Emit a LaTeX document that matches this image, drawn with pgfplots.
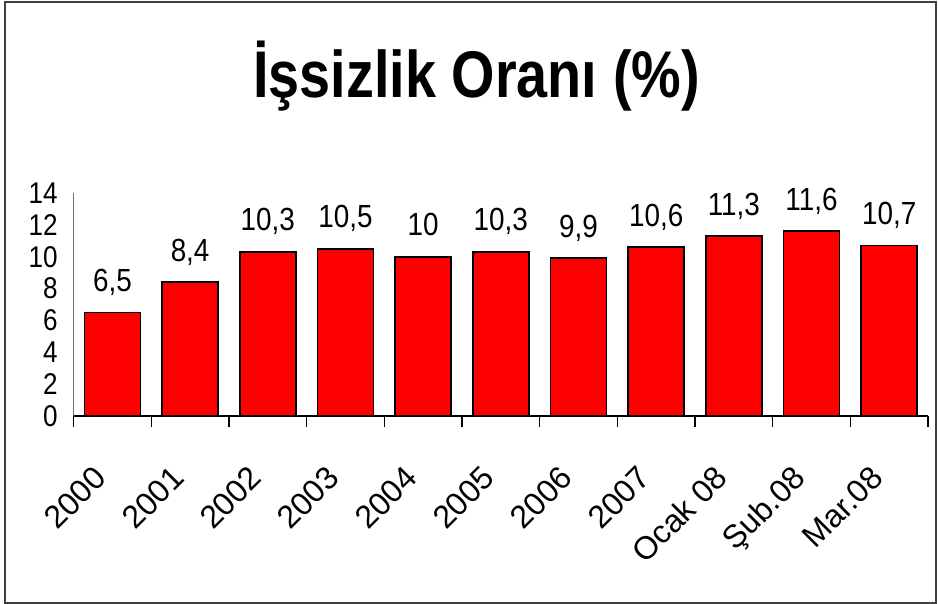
\documentclass[border=0pt]{standalone}
\usepackage{fontspec}
\setmainfont{Liberation Sans}
\newfontfamily\titlefont[FakeStretch=0.845]{Liberation Sans}
\newfontfamily\narrowfont[FakeStretch=0.87]{Liberation Sans}
\usepackage{pgfplots}
\pgfplotsset{compat=1.18}

\begin{document}
\begin{tikzpicture}
% whole picture, 1 px of the reference = 0.5pt, origin at the axis corner
\path[use as bounding box] (-36.8pt,-94pt) rectangle (432.2pt,208pt);
\draw[line width=1pt, black!75] (-34.3pt,207pt) rectangle (431.2pt,-93.5pt);
\node[anchor=base, inner sep=0pt, font=\titlefont\bfseries\fontsize{33}{38}\selectfont]
  at (201.5pt,159pt) {İşsizlik Oranı (\%)};

\begin{axis}[
  scale only axis, width=427.2pt, height=111.5pt,
  xmin=-0.5, xmax=10.5, ymin=0, ymax=14,
  axis x line=bottom, axis y line=left,
  x axis line style={-, black, line width=0.6pt},
  y axis line style={-, black!55, line width=0.6pt},
  major tick length=0pt,
  xtick=data,
  xticklabels={2000,2001,2002,2003,2004,2005,2006,2007,Ocak 08,Şub.08,Mar.08},
  extra x ticks={-0.5,0.5,1.5,2.5,3.5,4.5,5.5,6.5,7.5,8.5,9.5,10.5},
  extra x tick labels={},
  extra x tick style={major tick length=5.5pt, tick align=outside,
    tick style={black, line width=0.6pt}},
  ytick={0,2,4,6,8,10,12,14},
  /pgf/number format/.cd, use comma, assume math mode=true, /pgfplots/.cd,
  yticklabel style={font=\narrowfont\fontsize{15}{17}\selectfont, xshift=-4.5pt},
  xticklabel style={font=\fontsize{16}{18}\selectfont, inner sep=0pt,
    anchor=base east, xshift=-2pt, yshift=-32pt, rotate=45},
  nodes near coords,
  nodes near coords style={font=\narrowfont\fontsize{16}{18}\selectfont, inner sep=0pt,
    anchor=base, yshift=10.5pt},
]
\addplot[ybar, bar width=28pt, fill=red, draw=black, line width=0.9pt]
  coordinates {(0,6.5) (1,8.4) (2,10.3) (3,10.5) (4,10) (5,10.3)
               (6,9.9) (7,10.6) (8,11.3) (9,11.6) (10,10.7)};
\end{axis}
\end{tikzpicture}
\end{document}
